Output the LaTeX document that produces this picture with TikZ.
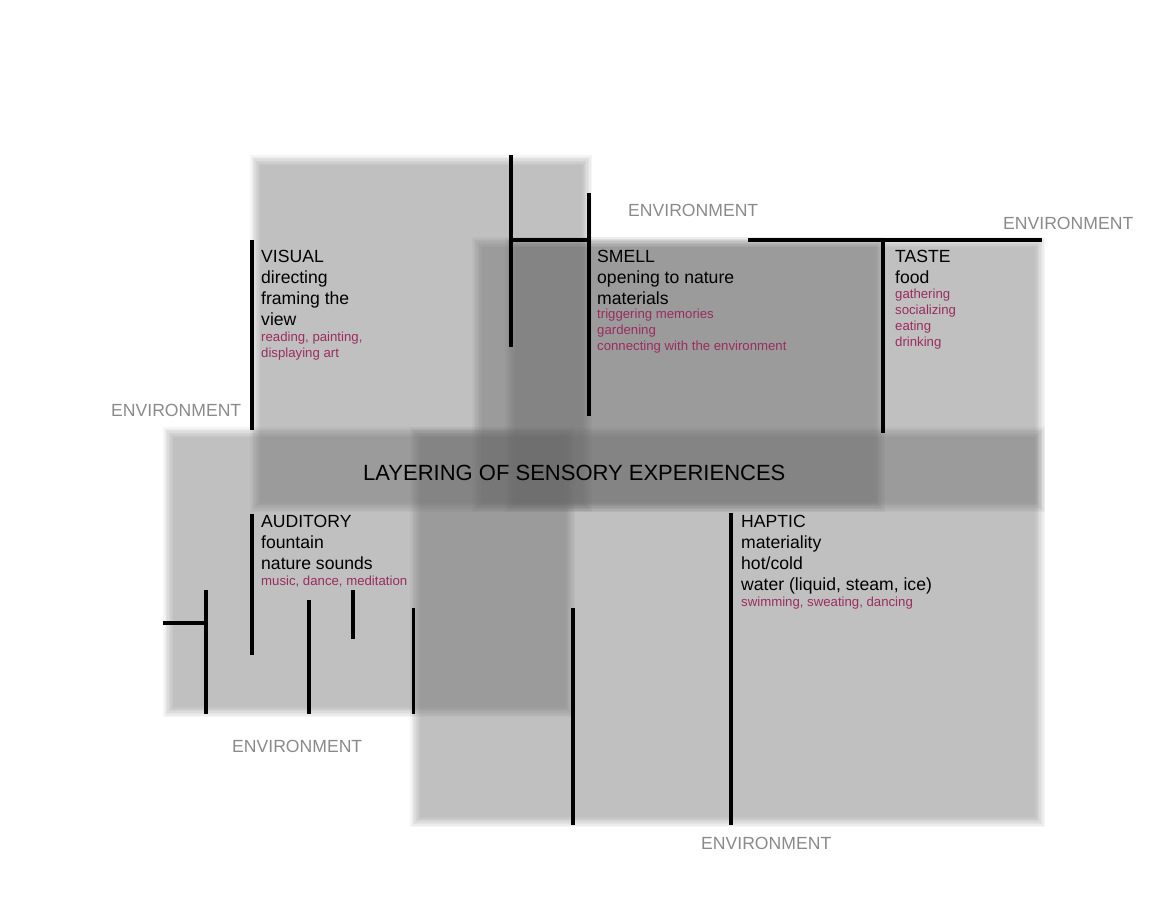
\documentclass[tikz,border=0pt]{standalone}
\usepackage{fontspec}
\setmainfont{Liberation Sans}
\definecolor{lay}{gray}{0.39}
\definecolor{accent}{HTML}{9A2D5E}
\definecolor{envgray}{HTML}{8A8A8A}
\newcommand\layerrect[4]{%
  \foreach \d in {-4.9,-3.5,-2.1,-0.7,0.7,2.1,3.5,4.9}{%
    \fill[layer] ({#1+\d},{#2+\d}) rectangle ({#3-\d},{#4-\d});}}
\begin{document}
\begin{tikzpicture}[x=1pt,y=-1pt,
  wall/.style={line width=4.8pt, black},
  thinwall/.style={line width=3pt, black},
  env/.style={text=envgray, font=\fontsize{17.6}{21}\selectfont, inner sep=0pt, anchor=base west},
  maintext/.style={font=\fontsize{17.6}{21}\selectfont, align=left, inner sep=0pt, anchor=base west},
  subtext/.style={text=accent, font=\fontsize{13.2}{16}\selectfont, align=left, inner sep=0pt, anchor=base west},
  layer/.style={fill=lay, fill opacity=0.063}]
\useasboundingbox (0,0) rectangle (1165,900);
% translucent layers
\layerrect{255}{160}{587}{507}
\layerrect{477}{242}{1040}{507}
\layerrect{510}{242}{880}{507}
\layerrect{168}{432}{570}{712}
\layerrect{415}{432}{1040}{822}
% walls
\draw[wall] (252,240) -- (252,430);
\draw[wall] (511,155) -- (511,347);
\draw[wall] (511,240) -- (589,240);
\draw[wall] (589,193) -- (589,416);
\draw[wall] (748,240) -- (1042,240);
\draw[wall] (883,240) -- (883,433);
\draw[wall] (252,514) -- (252,655);
\draw[wall] (163,623) -- (206,623);
\draw[wall] (206,590) -- (206,714);
\draw[wall] (309,600) -- (309,714);
\draw[wall] (353,590) -- (353,639);
\draw[thinwall] (413,608) -- (413,714);
\draw[wall] (573,608) -- (573,825);
\draw[wall] (731,513) -- (731,825);
% texts (anchored at the baseline of their last line)
\node[maintext] (visual) at (261,325) {VISUAL\\directing\\framing the\\view};
\node[subtext] (visualsub) at (261,357) {reading, painting,\\displaying art};
\node[maintext] (smell) at (597,304) {SMELL\\opening to nature\\materials};
\node[subtext] (smellsub) at (597,350.5) {triggering memories\\gardening\\connecting with the environment};
\node[maintext] (taste) at (895,283) {TASTE\\food};
\node[subtext] (tastesub) at (895,346.5) {gathering\\socializing\\eating\\drinking};
\node[maintext] (auditory) at (261,569) {AUDITORY\\fountain\\nature sounds};
\node[subtext] (auditorysub) at (261,585) {music, dance, meditation};
\node[maintext] (haptic) at (741,590) {HAPTIC\\materiality\\hot/cold\\water (liquid, steam, ice)};
\node[subtext] (hapticsub) at (741,606) {swimming, sweating, dancing};
\node[inner sep=0pt, anchor=base west, font=\fontsize{22}{26}\selectfont] (title) at (363,480) {LAYERING OF SENSORY EXPERIENCES};
\node[env] (envleft) at (111,416) {ENVIRONMENT};
\node[env] (envtop) at (628,216) {ENVIRONMENT};
\node[env] (envright) at (1003,229) {ENVIRONMENT};
\node[env] (envbotleft) at (232,752) {ENVIRONMENT};
\node[env] (envbot) at (701,849) {ENVIRONMENT};
\end{tikzpicture}
\end{document}
